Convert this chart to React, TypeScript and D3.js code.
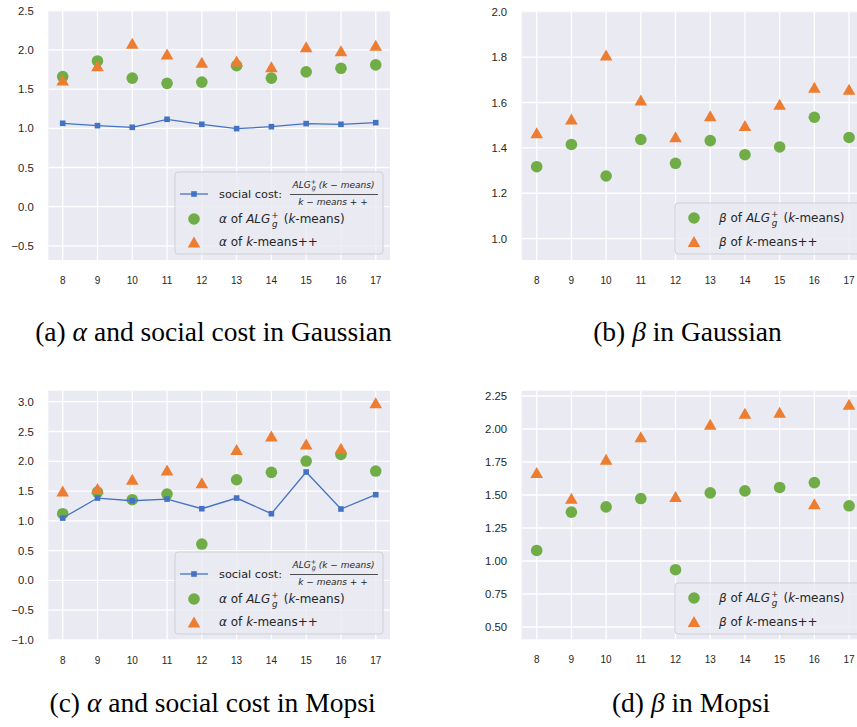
import React from 'react';
import * as d3 from 'd3';

// k values on the x axis
const ks = [8, 9, 10, 11, 12, 13, 14, 15, 16, 17];

// Gaussian
const gaussSocial = [1.064, 1.034, 1.013, 1.115, 1.051, 0.996, 1.021, 1.06, 1.051, 1.072];
const gaussAlphaAlg = [1.66, 1.86, 1.64, 1.574, 1.59, 1.8, 1.64, 1.72, 1.766, 1.81];
const gaussAlphaKpp = [1.617, 1.8, 2.085, 1.95, 1.843, 1.86, 1.787, 2.04, 1.99, 2.06];
const gaussBetaAlg = [1.317, 1.415, 1.276, 1.437, 1.332, 1.432, 1.37, 1.404, 1.535, 1.446];
const gaussBetaKpp = [1.467, 1.527, 1.809, 1.611, 1.449, 1.542, 1.499, 1.592, 1.667, 1.658];

// Mopsi
const mopsiSocial = [1.047, 1.383, 1.338, 1.366, 1.204, 1.383, 1.12, 1.82, 1.199, 1.439];
const mopsiAlphaAlg = [1.12, 1.484, 1.355, 1.45, 0.611, 1.69, 1.814, 2.004, 2.116, 1.836];
const mopsiAlphaKpp = [1.5, 1.545, 1.7, 1.853, 1.64, 2.2, 2.424, 2.29, 2.217, 2.983];
const mopsiBetaAlg = [1.08, 1.37, 1.41, 1.473, 0.934, 1.516, 1.531, 1.557, 1.594, 1.418];
const mopsiBetaKpp = [1.67, 1.476, 1.77, 1.942, 1.489, 2.036, 2.119, 2.126, 1.433, 2.187];

// y tick values
const alphaTicksGauss = [-0.5, 0, 0.5, 1, 1.5, 2, 2.5];
const betaTicksGauss = [1.0, 1.2, 1.4, 1.6, 1.8, 2.0];
const alphaTicksMopsi = [-1, -0.5, 0, 0.5, 1, 1.5, 2, 2.5, 3];
const betaTicksMopsi = [0.5, 0.75, 1, 1.25, 1.5, 1.75, 2, 2.25];

const BLUE = '#4472c4';
const GREEN = '#70ad47';
const ORANGE = '#ed7d31';
const TEXT = '#262626';
const SANS = '"Liberation Sans", Arial, sans-serif';
const LEG = '"DejaVu Sans", sans-serif';
const SERIF = '"Liberation Serif", "DejaVu Serif", serif';

const minus = (s: string) => s.replace('-', '\u2212');

function tri(cx: number, cy: number, w = 12.6, h = 11) {
  return `M${cx},${cy - h / 2}L${cx - w / 2},${cy + h / 2}L${cx + w / 2},${cy + h / 2}Z`;
}

function AlgLabel({ x, y, greek }: { x: number; y: number; greek: string }) {
  return (
    <text x={x} y={y} fontSize={12} fill={TEXT} fontFamily={LEG} style={{ whiteSpace: 'pre' }}>
      <tspan fontStyle="italic">{greek}</tspan>
      <tspan>{' of '}</tspan>
      <tspan fontStyle="italic">ALG</tspan>
      <tspan fontSize={8.8} dx={0.8} dy={-5.5}>+</tspan>
      <tspan fontSize={8.8} fontStyle="italic" dx={-6.4} dy={9.2}>g</tspan>
      <tspan dx={2.2} dy={-3.7}>{' ('}</tspan>
      <tspan fontStyle="italic">k</tspan>
      <tspan>-means)</tspan>
    </text>
  );
}

function KppLabel({ x, y, greek }: { x: number; y: number; greek: string }) {
  return (
    <text x={x} y={y} fontSize={12} fill={TEXT} fontFamily={LEG} style={{ whiteSpace: 'pre' }}>
      <tspan fontStyle="italic">{greek}</tspan>
      <tspan>{' of '}</tspan>
      <tspan fontStyle="italic">k</tspan>
      <tspan>-means++</tspan>
    </text>
  );
}

type PanelProps = {
  rect: { l: number; r: number; t: number; b: number };
  xDomain: [number, number];
  yDomain: [number, number];
  yTicks: number[];
  yFmt: string;
  social?: number[];
  alg: number[];
  kpp: number[];
  greek: string;
  legend: { x: number; y: number; w: number };
  caption: { x: number; y: number; pre: string; post: string };
  clipId: string;
};

function Panel(p: PanelProps) {
  const { l, r, t, b } = p.rect;
  const x = d3.scaleLinear().domain(p.xDomain).range([l, r]);
  const y = d3.scaleLinear().domain(p.yDomain).range([b, t]);
  const fmt = d3.format(p.yFmt);
  const line = d3.line<number>().x((_, i) => x(ks[i])).y(d => y(d));
  const L = p.legend;
  const hasSocial = !!p.social;
  const lh = hasSocial ? 82 : 51;
  const rows = hasSocial ? [22, 47, 70] : [15, 38.5];
  return (
    <g>
      <clipPath id={p.clipId}>
        <rect x={l} y={t} width={r - l} height={b - t} />
      </clipPath>
      <rect x={l} y={t} width={r - l} height={b - t} fill="#eaeaf2" />
      <g clipPath={`url(#${p.clipId})`}>
        {p.yTicks.map(v => (
          <line key={'h' + v} x1={l} x2={r} y1={y(v)} y2={y(v)} stroke="#fff" strokeWidth={1.3} />
        ))}
        {ks.map(k => (
          <line key={'v' + k} x1={x(k)} x2={x(k)} y1={t} y2={b} stroke="#fff" strokeWidth={1.3} />
        ))}
        {p.alg.map((v, i) => (
          <circle key={'c' + i} cx={x(ks[i])} cy={y(v)} r={5.8} fill={GREEN} />
        ))}
        {p.kpp.map((v, i) => (
          <path key={'t' + i} d={tri(x(ks[i]), y(v))} fill={ORANGE} />
        ))}
        {p.social && (
          <g>
            <path d={line(p.social) || ''} fill="none" stroke={BLUE} strokeWidth={1.3} />
            {p.social.map((v, i) => (
              <rect key={'s' + i} x={x(ks[i]) - 2.8} y={y(v) - 2.8} width={5.6} height={5.6} fill={BLUE} />
            ))}
          </g>
        )}
      </g>
      {p.yTicks.map(v => (
        <text key={'yl' + v} x={l - 14.6} y={y(v)} dy="0.36em" textAnchor="end" fontSize={11.3} fill={TEXT} fontFamily={SANS}>
          {minus(fmt(v))}
        </text>
      ))}
      {ks.map(k => (
        <text key={'xl' + k} x={x(k)} y={b + 23.5} textAnchor="middle" fontSize={10} fill={TEXT} fontFamily={SANS}>
          {k}
        </text>
      ))}
      {/* legend */}
      <rect x={L.x} y={L.y} width={L.w} height={lh} rx={3} fill="rgba(234,234,242,0.8)" stroke="#cfcfd6" strokeWidth={1} />
      {hasSocial && (
        <g>
          <line x1={L.x + 5} x2={L.x + 33} y1={L.y + rows[0]} y2={L.y + rows[0]} stroke={BLUE} strokeWidth={1.3} />
          <rect x={L.x + 19 - 2.8} y={L.y + rows[0] - 2.8} width={5.6} height={5.6} fill={BLUE} />
          <text x={L.x + 44} y={L.y + rows[0]} dy="0.36em" fontSize={11.3} fill={TEXT} fontFamily={LEG}>
            social cost:
          </text>
          <text x={L.x + 158.5} y={L.y + rows[0] - 6.5} textAnchor="middle" fontSize={9} fill={TEXT} fontFamily={LEG} style={{ whiteSpace: 'pre' }}>
            <tspan fontStyle="italic">ALG</tspan>
            <tspan fontSize={6.5} dy={-3.8}>+</tspan>
            <tspan fontSize={6.5} fontStyle="italic" dx={-4.4} dy={6.3}>g</tspan>
            <tspan dy={-2.5} fontStyle="italic">{' (k \u2212 means)'}</tspan>
          </text>
          <line x1={L.x + 115} x2={L.x + 203} y1={L.y + rows[0] + 0.5} y2={L.y + rows[0] + 0.5} stroke={TEXT} strokeWidth={0.8} />
          <text x={L.x + 158} y={L.y + rows[0] + 10.5} textAnchor="middle" fontSize={9} fill={TEXT} fontFamily={LEG} fontStyle="italic" style={{ whiteSpace: 'pre' }}>
            {'k \u2212 means + +'}
          </text>
        </g>
      )}
      <circle cx={L.x + 19} cy={L.y + rows[hasSocial ? 1 : 0]} r={5.8} fill={GREEN} />
      <AlgLabel x={L.x + 44} y={L.y + rows[hasSocial ? 1 : 0] + 4} greek={p.greek} />
      <path d={tri(L.x + 19, L.y + rows[hasSocial ? 2 : 1])} fill={ORANGE} />
      <KppLabel x={L.x + 44} y={L.y + rows[hasSocial ? 2 : 1] + 4} greek={p.greek} />
      {/* caption */}
      <text x={p.caption.x} y={p.caption.y} textAnchor="middle" fontSize={27.5} fill="#000" fontFamily={SERIF} style={{ whiteSpace: 'pre' }}>
        <tspan>{p.caption.pre}</tspan>
        <tspan fontStyle="italic">{p.greek}</tspan>
        <tspan>{p.caption.post}</tspan>
      </text>
    </g>
  );
}

export default function App() {
  return (
    <svg width={857} height={727} viewBox="0 0 857 727" style={{ position: 'absolute', left: 0, top: 0, background: '#fff' }}>
      <Panel
        rect={{ l: 48.3, r: 390, t: 10.8, b: 260 }}
        xDomain={[7.586, 17.41]}
        yDomain={[-0.681, 2.5]}
        yTicks={alphaTicksGauss}
        yFmt=".1f"
        social={gaussSocial}
        alg={gaussAlphaAlg}
        kpp={gaussAlphaKpp}
        greek={'\u03b1'}
        legend={{ x: 175, y: 172, w: 208 }}
        caption={{ x: 213.5, y: 341, pre: '(a) ', post: ' and social cost in Gaussian' }}
        clipId="ca"
      />
      <Panel
        rect={{ l: 521.7, r: 864, t: 11.7, b: 260 }}
        xDomain={[7.568, 17.43]}
        yDomain={[0.906, 2.0]}
        yTicks={betaTicksGauss}
        yFmt=".1f"
        alg={gaussBetaAlg}
        kpp={gaussBetaKpp}
        greek={'\u03b2'}
        legend={{ x: 675, y: 203, w: 190 }}
        caption={{ x: 687.5, y: 341, pre: '(b) ', post: ' in Gaussian' }}
        clipId="cb"
      />
      <Panel
        rect={{ l: 48.3, r: 390, t: 390.7, b: 640 }}
        xDomain={[7.586, 17.41]}
        yDomain={[-1.0, 3.185]}
        yTicks={alphaTicksMopsi}
        yFmt=".1f"
        social={mopsiSocial}
        alg={mopsiAlphaAlg}
        kpp={mopsiAlphaKpp}
        greek={'\u03b1'}
        legend={{ x: 175, y: 552, w: 208 }}
        caption={{ x: 212.5, y: 711.5, pre: '(c) ', post: ' and social cost in Mopsi' }}
        clipId="cc"
      />
      <Panel
        rect={{ l: 521.7, r: 864, t: 390.7, b: 639.3 }}
        xDomain={[7.568, 17.43]}
        yDomain={[0.407, 2.29]}
        yTicks={betaTicksMopsi}
        yFmt=".2f"
        alg={mopsiBetaAlg}
        kpp={mopsiBetaKpp}
        greek={'\u03b2'}
        legend={{ x: 675, y: 583, w: 190 }}
        caption={{ x: 691, y: 711.5, pre: '(d) ', post: ' in Mopsi' }}
        clipId="cd"
      />
    </svg>
  );
}
